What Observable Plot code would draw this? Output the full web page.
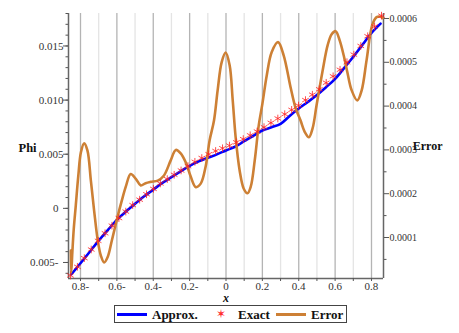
<!DOCTYPE html>
<html><head><meta charset="utf-8">
<script src="https://cdn.jsdelivr.net/npm/d3@7"></script>
<script src="https://cdn.jsdelivr.net/npm/@observablehq/plot@0.6"></script>
<style>
body{margin:0;background:#fff;font-family:"Liberation Serif",serif;}
#wrap{position:relative;width:459px;height:333px;overflow:hidden;}
#legend{position:absolute;left:114px;top:305px;width:231px;height:16px;border:1px solid #444;font:bold 13px "Liberation Serif",serif;color:#111;}
#legend span{position:absolute;top:0;line-height:17px;}
#legend .ln{position:absolute;top:7px;height:3px;}
</style></head><body><div id="wrap"></div><script>
const approxX = [-0.85,-0.80,-0.75,-0.70,-0.65,-0.60,-0.55,-0.50,-0.45,-0.40,-0.35,-0.30,-0.25,-0.20,-0.15,-0.10,-0.05,0,0.05,0.10,0.15,0.20,0.25,0.30,0.35,0.40,0.45,0.50,0.55,0.60,0.65,0.70,0.75,0.80,0.85];
const approxPhi = [-0.00609,-0.00507,-0.00403,-0.00298,-0.00201,-0.00106,-0.00029,0.00043,0.00111,0.00173,0.00235,0.00288,0.00341,0.00393,0.00434,0.00467,0.00499,0.00535,0.00569,0.00620,0.00670,0.00719,0.00749,0.00781,0.00854,0.00922,0.00983,0.01047,0.01119,0.01196,0.01297,0.01400,0.01510,0.01621,0.01707];
const exactX = [-0.855,-0.817,-0.779,-0.741,-0.703,-0.665,-0.627,-0.589,-0.551,-0.513,-0.475,-0.437,-0.399,-0.361,-0.323,-0.285,-0.247,-0.209,-0.171,-0.133,-0.095,-0.057,-0.019,0.019,0.057,0.095,0.133,0.171,0.209,0.247,0.285,0.323,0.361,0.399,0.437,0.475,0.513,0.551,0.589,0.627,0.665,0.703,0.741,0.779,0.817,0.855];
const exactPhi = [-0.0062,-0.0054,-0.0046,-0.0038,-0.0030,-0.0023,-0.0016,-0.0009,-0.0003,0.0003,0.0008,0.0013,0.0018,0.0023,0.0027,0.0031,0.0035,0.0039,0.0043,0.00465,0.0050,0.0053,0.00555,0.0058,0.0061,0.0064,0.00675,0.0071,0.0075,0.0079,0.0083,0.0087,0.0091,0.0095,0.0100,0.0105,0.0110,0.0116,0.0122,0.0128,0.0135,0.0142,0.0150,0.0159,0.0168,0.0178];
const errorX = [-0.853,-0.851,-0.845,-0.837,-0.826,-0.812,-0.798,-0.780,-0.762,-0.743,-0.725,-0.705,-0.688,-0.670,-0.650,-0.628,-0.597,-0.573,-0.551,-0.524,-0.496,-0.469,-0.442,-0.414,-0.375,-0.342,-0.304,-0.276,-0.249,-0.221,-0.194,-0.166,-0.139,-0.111,-0.090,-0.066,-0.046,-0.024,-0.002,0.020,0.037,0.053,0.075,0.097,0.118,0.136,0.158,0.180,0.200,0.224,0.251,0.286,0.317,0.355,0.383,0.410,0.432,0.456,0.476,0.498,0.530,0.559,0.581,0.603,0.625,0.647,0.667,0.691,0.722,0.746,0.773,0.804,0.828,0.850,0.861];
const errorVal = [0.0000700,0.0000195,0.0000652,0.000120,0.000173,0.000241,0.000294,0.000315,0.000299,0.000230,0.000161,0.000093,0.0000584,0.0000430,0.0000561,0.0000927,0.000146,0.000184,0.000216,0.000245,0.000234,0.000219,0.000224,0.000227,0.000230,0.000241,0.000276,0.000300,0.000292,0.000271,0.000239,0.000215,0.000223,0.000264,0.000322,0.000367,0.000436,0.000500,0.000522,0.000493,0.000413,0.000329,0.000253,0.000212,0.000201,0.000216,0.000276,0.000356,0.000405,0.000470,0.000523,0.000546,0.000516,0.000443,0.000395,0.000367,0.000342,0.000329,0.000349,0.000402,0.000478,0.000539,0.000564,0.000571,0.000550,0.000516,0.000478,0.000436,0.000413,0.000436,0.000505,0.000585,0.000603,0.000604,0.000601];

const xDomain = [-0.866, 0.866];
const phiDomain = [-0.00648, 0.0180];
const errDomain = [0.0000064, 0.0006114];
const xMajorTicks = [-0.8,-0.6,-0.4,-0.2,0,0.2,0.4,0.6,0.8];
const xTickLabels = ["0.8-","0.6-","0.4-","0.2-","0","0.2","0.4","0.6","0.8"];
const xMinorTicks = [-0.7,-0.5,-0.3,-0.1,0.1,0.3,0.5,0.7];
const phiTicksPos = [0.005,0.010,0.015];
const phiTicksPosLabels = ["0.005","0.010","0.015"];
const phiTicksNeg = [-0.005,0];
const phiTicksNegLabels = ["0.005-","0"];
const phiMinorTicks = [-0.006,-0.005,-0.004,-0.003,-0.002,-0.001,0,0.001,0.002,0.003,0.004,0.005,0.006,0.007,0.008,0.009,0.010,0.011,0.012,0.013,0.014,0.015,0.016,0.017,0.018];
const errTicks = [0.0001,0.0002,0.0003,0.0004,0.0005,0.0006];
const errTickLabels = ["0.0001","0.0002","0.0003","0.0004","0.0005","0.0006"];
const errMinorTicks = [0.00005,0.00015,0.00025,0.00035,0.00045,0.00055];

const errToPhi = e => phiDomain[0] + (e - errDomain[0]) / (errDomain[1] - errDomain[0]) * (phiDomain[1] - phiDomain[0]);

const approx = approxX.map((x,i)=>({x, y: approxPhi[i]}));
const exact = exactX.map((x,i)=>({x, y: exactPhi[i]}));
const err = errorX.map((x,i)=>({x, y: errToPhi(errorVal[i])}));

const lab = (vals, labels) => { const m = new Map(vals.map((v,i)=>[v,labels[i]])); return d => m.get(d); };
const blank = () => "";
const errMapped = errTicks.map(errToPhi);

const FF = "Liberation Serif";
const tickColor = "#555";
const plot = Plot.plot({
  width: 459, height: 333,
  marginLeft: 68, marginRight: 76, marginTop: 13, marginBottom: 55,
  style: {fontFamily: FF, fontSize: "11px", background: "#fff"},
  x: {domain: xDomain, axis: null},
  y: {domain: phiDomain, axis: null},
  marks: [
    Plot.ruleX(xMinorTicks, {stroke: "#e4e4e4", strokeWidth: 1.3}),
    Plot.ruleX(xMajorTicks, {stroke: "#b4b4b4", strokeWidth: 1.3}),
    Plot.ruleX([xDomain[0]], {stroke: "#666", strokeWidth: 1.5}),
    Plot.ruleX([xDomain[1]], {stroke: "#666", strokeWidth: 1.5}),
    Plot.ruleY([phiDomain[0]], {stroke: "#666", strokeWidth: 1.5}),
    Plot.axisX(xMinorTicks.concat(xMajorTicks), {tickSize: 3, tickFormat: blank, label: null, stroke: tickColor}),
    Plot.axisX(xMajorTicks, {tickSize: 0, tickPadding: 4, label: null, tickFormat: lab(xMajorTicks, xTickLabels), fill: "#333", fontFamily: FF, fontSize: 11}),
    Plot.axisY(phiMinorTicks, {anchor: "left", tickSize: 2.5, tickFormat: blank, label: null, stroke: tickColor}),
    Plot.axisY(phiTicksPos.concat(phiTicksNeg), {anchor: "left", tickSize: 5, tickFormat: blank, label: null, stroke: tickColor}),
    Plot.axisY(phiTicksPos, {anchor: "left", tickSize: 0, tickPadding: 5, label: null, tickFormat: lab(phiTicksPos, phiTicksPosLabels), fill: "#333", fontFamily: FF, fontSize: 11}),
    Plot.axisY(phiTicksNeg, {anchor: "left", tickSize: 0, tickPadding: 10, label: null, tickFormat: lab(phiTicksNeg, phiTicksNegLabels), fill: "#333", fontFamily: FF, fontSize: 11}),
    Plot.axisY(errMinorTicks.map(errToPhi), {anchor: "right", tickSize: 2.5, tickFormat: blank, label: null, stroke: tickColor}),
    Plot.axisY(errMapped, {anchor: "right", tickSize: 5, tickFormat: blank, label: null, stroke: tickColor}),
    Plot.axisY(errMapped, {anchor: "right", tickSize: 0, tickPadding: 6, label: null, tickFormat: lab(errMapped, errTickLabels), fill: "#333", fontFamily: FF, fontSize: 10}),
    Plot.line(approx, {x: "x", y: "y", stroke: "#0000ff", strokeWidth: 2.6, curve: "catmull-rom"}),
    Plot.line(err, {x: "x", y: "y", stroke: "#cd8035", strokeWidth: 2.6, curve: "catmull-rom"}),
    Plot.dot(exact, {x: "x", y: "y", symbol: "asterisk", r: 3.6, stroke: "#ff2020", strokeWidth: 1, strokeOpacity: 0.8}),
    Plot.text(["Phi"], {frameAnchor: "left", dx: -50, dy: 1.5, text: d => d, fontFamily: FF, fontWeight: "bold", fontSize: 12.5, fill: "#111"}),
    Plot.text(["Error"], {frameAnchor: "right", dx: 59, dy: 0, text: d => d, fontFamily: FF, fontWeight: "bold", fontSize: 12, fill: "#111"}),
    Plot.text(["x"], {frameAnchor: "bottom", dy: 23.5, text: d => d, fontFamily: FF, fontWeight: "bold", fontStyle: "italic", fontSize: 12, fill: "#111"})
  ]
});
plot.querySelectorAll("text").forEach(t => { t.style.fontFamily = '"Liberation Serif", serif'; });
const wrap = document.getElementById("wrap");
plot.style.position = "absolute"; plot.style.left = "0"; plot.style.top = "0";
wrap.appendChild(plot);

const legendItems = ["Approx.", "Exact", "Error"];
const legend = document.createElement("div");
legend.id = "legend";
legend.innerHTML =
  `<div class="ln" style="left:2px;width:30px;background:#0000ff"></div>` +
  `<span style="left:37px">${legendItems[0]}</span>` +
  `<span style="left:101px;top:0;color:#ff3030;font-weight:normal;font-size:12px">&#x2736;</span>` +
  `<span style="left:123px">${legendItems[1]}</span>` +
  `<div class="ln" style="left:161px;width:30px;background:#cd8035"></div>` +
  `<span style="left:196px">${legendItems[2]}</span>`;
wrap.appendChild(legend);
</script></body></html>
